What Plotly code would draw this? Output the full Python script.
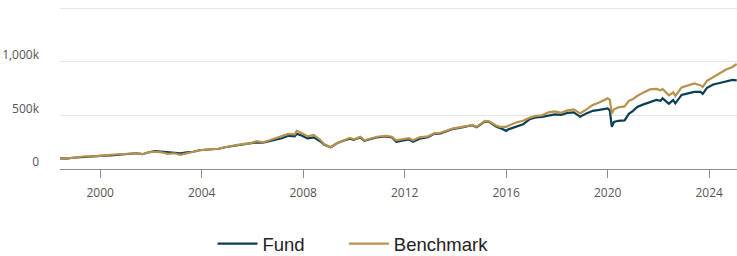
import plotly.graph_objects as go

dates = [
    "1998-06", "1998-09", "1998-12", "1999-03", "1999-06", "1999-09", "1999-12",
    "2000-03", "2000-06", "2000-09", "2000-12", "2001-03", "2001-06", "2001-09", "2001-12",
    "2002-03", "2002-06", "2002-09", "2002-12", "2003-03", "2003-06", "2003-09", "2003-12",
    "2004-03", "2004-06", "2004-09", "2004-12", "2005-03", "2005-06", "2005-09", "2005-12",
    "2006-03", "2006-06", "2006-09", "2006-12", "2007-03", "2007-06", "2007-09", "2007-10", "2007-12",
    "2008-03", "2008-06", "2008-09", "2008-11", "2009-02", "2009-05", "2009-08", "2009-11",
    "2010-01", "2010-04", "2010-06", "2010-09", "2010-12", "2011-04", "2011-07", "2011-09", "2011-12",
    "2012-03", "2012-05", "2012-08", "2012-12", "2013-03", "2013-06", "2013-09", "2013-12",
    "2014-03", "2014-06", "2014-09", "2014-11", "2015-03", "2015-05", "2015-08", "2015-10",
    "2016-01", "2016-02", "2016-06", "2016-09", "2016-12", "2017-03", "2017-06", "2017-09", "2017-12",
    "2018-03", "2018-06", "2018-09", "2018-12", "2019-03", "2019-06", "2019-09", "2019-12",
    "2020-01", "2020-02", "2020-03", "2020-04", "2020-06", "2020-09", "2020-11",
    "2021-01", "2021-03", "2021-06", "2021-09", "2021-12", "2022-02", "2022-03", "2022-06",
    "2022-08", "2022-09", "2022-12", "2023-03", "2023-06", "2023-09", "2023-10", "2023-12",
    "2024-03", "2024-06", "2024-09", "2024-12", "2025-02",
]

fund_k = [
    100, 96, 105, 110, 115, 115, 119,
    124, 128, 133, 133, 138, 147, 138, 156,
    166, 161, 152, 152, 147, 156, 161, 175,
    180, 184, 189, 203, 212, 222, 231, 235,
    249, 245, 259, 277, 287, 310, 305, 328, 315,
    287, 296, 259, 226, 203, 240, 263, 282,
    273, 296, 263, 282, 296, 305, 296, 254, 268,
    277, 254, 282, 296, 328, 333, 352, 375,
    384, 398, 408, 389, 445, 440, 398, 384,
    356, 370, 398, 417, 464, 482, 487, 501, 510,
    505, 524, 529, 487, 519, 543, 552, 566,
    566, 547, 394, 440, 450, 454, 515,
    543, 580, 603, 627, 645, 636, 659, 608,
    645, 613, 692, 706, 720, 720, 701, 757,
    789, 803, 817, 831, 827,
]

benchmark_k = [
    100, 96, 105, 110, 119, 115, 124,
    128, 133, 138, 138, 142, 147, 138, 156,
    161, 156, 142, 147, 133, 147, 156, 175,
    180, 184, 189, 203, 217, 226, 235, 240,
    259, 249, 268, 287, 305, 328, 324, 356, 338,
    305, 319, 273, 231, 203, 240, 268, 291,
    277, 301, 268, 287, 301, 310, 301, 268, 277,
    287, 268, 296, 305, 333, 338, 356, 380,
    389, 403, 412, 394, 450, 445, 408, 394,
    394, 403, 436, 450, 477, 496, 501, 529, 538,
    524, 547, 557, 519, 557, 598, 621, 650,
    659, 645, 519, 557, 575, 584, 636,
    654, 682, 715, 743, 748, 734, 748, 687,
    715, 682, 762, 780, 799, 780, 766, 822,
    859, 896, 929, 952, 980,
]

y_tickvals = [0, 500000, 1000000, 1500000]
y_ticktext = ["0", "500k", "1,000k", ""]
x_tickvals = ["2000-01-01", "2004-01-01", "2008-01-01", "2012-01-01", "2016-01-01", "2020-01-01", "2024-01-01"]
x_ticktext = ["2000", "2004", "2008", "2012", "2016", "2020", "2024"]

fund = [v * 1000 for v in fund_k]
benchmark = [v * 1000 for v in benchmark_k]

fig = go.Figure()
fig.add_trace(go.Scatter(x=dates, y=fund, mode="lines", name="Fund", legend="legend",
                         line=dict(color="#0b3f55", width=2.2)))
fig.add_trace(go.Scatter(x=dates, y=benchmark, mode="lines", name="Benchmark", legend="legend2",
                         line=dict(color="#b8914c", width=2.2)))

legend_font = dict(family="Liberation Sans, Arial", size=18.5, color="#222222")

fig.update_layout(
    width=737, height=256,
    margin=dict(l=60, r=0, t=7, b=87, autoexpand=False),
    paper_bgcolor="white", plot_bgcolor="white",
    font=dict(family="Open Sans", size=12, color="#555555"),
    showlegend=True,
    legend=dict(orientation="h", x=166 / 737, xanchor="left", y=-0.463, yanchor="middle",
                font=legend_font, itemwidth=40),
    legend2=dict(orientation="h", x=309 / 737, xanchor="left", y=-0.463, yanchor="middle",
                 font=legend_font, itemwidth=40),
    xaxis=dict(
        type="date",
        range=["1998-06-01", "2025-02-05"],
        tickvals=x_tickvals, ticktext=x_ticktext,
        showgrid=False, zeroline=False,
        showline=True, linecolor="#8c8c8c", linewidth=1.2,
        ticks="outside", ticklen=8, tickcolor="#8c8c8c", tickwidth=1.2,
        ticklabelstandoff=4,
        tickfont=dict(family="Open Sans", size=12, color="#555555"),
        automargin=False,
        fixedrange=True,
    ),
    yaxis=dict(
        range=[0, 1512000],
        tickvals=y_tickvals, ticktext=y_ticktext,
        showgrid=True, gridcolor="#e6e6e6", gridwidth=1,
        zeroline=False, showline=False,
        ticklabelstandoff=20, ticklabelshift=-7,
        tickfont=dict(family="Open Sans", size=12, color="#555555"),
        automargin=False,
        fixedrange=True,
    ),
)

fig.write_html("out.html", config={"displayModeBar": False},
               post_script="document.body.style.margin='0';")
